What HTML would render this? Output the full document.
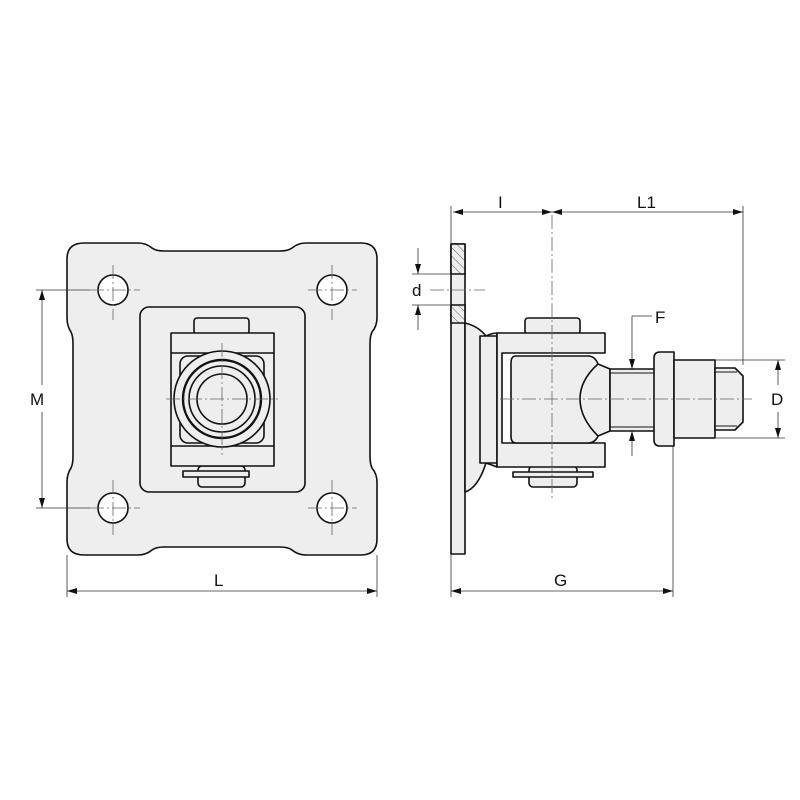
<!DOCTYPE html>
<html><head><style>body{margin:0;background:#fff}svg{display:block}text{font-family:"Liberation Sans",sans-serif;font-size:17px;fill:#111}</style></head><body>
<svg width="800" height="800" viewBox="0 0 800 800" xmlns="http://www.w3.org/2000/svg">
<defs>
<marker id="a" viewBox="0 0 10 6" refX="10" refY="3" markerWidth="10" markerHeight="6" orient="auto-start-reverse" markerUnits="userSpaceOnUse"><path d="M0,0L10,3L0,6z" fill="#111"/></marker>
<pattern id="h" width="6" height="6" patternUnits="userSpaceOnUse" patternTransform="rotate(-45)"><rect width="6" height="6" fill="#eee"/><line x1="0" y1="0" x2="0" y2="6" stroke="#444" stroke-width="0.8"/></pattern>
</defs>
<g stroke="#111" stroke-width="1.6" fill="#eee" stroke-linejoin="round">
<!-- front plate -->
<path d="M84,243 L138,243 Q146,243 152,248 Q156,251 164,251 L280,251 Q288,251 292,248 Q298,243 306,243 L361,243 Q377,243 377,259 L377,318 Q377,326 372,332 Q370,336 370,344 L370,456 Q370,464 372,468 Q377,474 377,482 L377,539 Q377,555 361,555 L306,555 Q298,555 292,550 Q288,547 280,547 L164,547 Q156,547 152,550 Q146,555 138,555 L84,555 Q67,555 67,539 L67,482 Q67,474 71,468 Q73,464 73,456 L73,344 Q73,336 71,332 Q67,326 67,318 L67,259 Q67,243 84,243Z"/>
<g fill="#fff"><circle cx="113" cy="290" r="15"/><circle cx="332" cy="290" r="15"/><circle cx="113" cy="508" r="15"/><circle cx="332" cy="508" r="15"/></g>
<rect x="140" y="307" width="165" height="185" rx="9"/>
<rect x="194" y="318" width="55" height="16" rx="3"/>
<rect x="198" y="466" width="47" height="21" rx="4"/>
<rect x="183" y="471" width="66" height="6"/>
<rect x="171" y="333" width="103" height="133"/>
<line x1="171" y1="353" x2="274" y2="353"/><line x1="171" y1="446" x2="274" y2="446"/>
<rect x="180" y="356" width="84" height="87" rx="8"/>
<circle cx="222" cy="399" r="48"/>
<circle cx="222" cy="399" r="39" stroke-width="2.4"/>
<circle cx="222" cy="399" r="33"/>
<circle cx="222" cy="399" r="25"/>
<!-- side view -->
<rect x="451" y="244" width="14" height="310"/>
<rect x="451" y="244" width="14" height="30" fill="url(#h)"/>
<rect x="451" y="305" width="14" height="18" fill="url(#h)"/>
<path d="M465,323 Q478,326 486,336 Q492,333 497,333 L497,467 Q492,465 486,463 Q478,488 465,492Z"/>
<rect x="480" y="336" width="17" height="127"/>
<rect x="525" y="318" width="55" height="16" rx="3"/>
<rect x="529" y="466" width="48" height="21" rx="4"/>
<rect x="513" y="472" width="80" height="5"/>
<path d="M497,333 L605,333 L605,353 L502,353 L502,443 L605,443 L605,467 L497,467Z"/>
<path d="M516,356 L588,356 Q595,356 598,364 L610,369 L610,431 L598,436 Q595,443 588,443 L516,443 Q511,443 511,436 L511,363 Q511,356 516,356Z"/>
<path d="M598,364 Q580,380 580,399 Q580,418 598,436" fill="none"/>
<rect x="610" y="369" width="45" height="62"/>
<line x1="610" y1="373" x2="655" y2="373" stroke-width="1"/><line x1="610" y1="427" x2="655" y2="427" stroke-width="1"/>
<path d="M660,352 L674,352 L674,446 L660,446 Q654,446 654,440 L654,358 Q654,352 660,352Z"/>
<rect x="674" y="360" width="41" height="78"/>
<path d="M715,368 L735,368 L743,376 L743,422 L735,430 L715,430Z"/>
<line x1="715" y1="372" x2="737" y2="372" stroke-width="1"/><line x1="715" y1="426" x2="737" y2="426" stroke-width="1"/>
</g>
<!-- center lines -->
<g stroke="#666" stroke-width="0.8" stroke-dasharray="14,3,2,3" fill="none">
<line x1="90" y1="290" x2="140" y2="290"/><line x1="308" y1="290" x2="357" y2="290"/>
<line x1="90" y1="508" x2="140" y2="508"/><line x1="308" y1="508" x2="357" y2="508"/>
<line x1="113" y1="265" x2="113" y2="320"/><line x1="332" y1="265" x2="332" y2="320"/>
<line x1="113" y1="480" x2="113" y2="535"/><line x1="332" y1="480" x2="332" y2="535"/>
<line x1="166" y1="399" x2="278" y2="399"/><line x1="222" y1="343" x2="222" y2="455"/>
<line x1="430" y1="290" x2="485" y2="290"/>
<line x1="500" y1="399" x2="752" y2="399"/>
<line x1="552" y1="215" x2="552" y2="500"/>
</g>
<!-- dimensions -->
<g stroke="#333" stroke-width="0.8" fill="none">
<line x1="67" y1="555" x2="67" y2="597"/><line x1="377" y1="555" x2="377" y2="597"/>
<line x1="67" y1="591" x2="377" y2="591" marker-start="url(#a)" marker-end="url(#a)"/>
<line x1="36" y1="290" x2="90" y2="290"/><line x1="36" y1="508" x2="90" y2="508"/>
<line x1="42" y1="290" x2="42" y2="385" marker-start="url(#a)"/><line x1="42" y1="412" x2="42" y2="508" marker-end="url(#a)"/>
<line x1="451" y1="206" x2="451" y2="244"/><line x1="451" y1="554" x2="451" y2="597"/>
<line x1="453" y1="212" x2="552" y2="212" marker-start="url(#a)" marker-end="url(#a)"/>
<line x1="552" y1="212" x2="743" y2="212" marker-start="url(#a)" marker-end="url(#a)"/>
<line x1="743" y1="206" x2="743" y2="365"/>
<line x1="673" y1="446" x2="673" y2="597"/>
<line x1="451" y1="591" x2="673" y2="591" marker-start="url(#a)" marker-end="url(#a)"/>
<line x1="412" y1="274" x2="451" y2="274"/><line x1="412" y1="305" x2="451" y2="305"/>
<line x1="418" y1="248" x2="418" y2="274" marker-end="url(#a)"/><line x1="418" y1="330" x2="418" y2="305" marker-end="url(#a)"/>
<line x1="715" y1="360" x2="785" y2="360"/><line x1="715" y1="438" x2="785" y2="438"/>
<line x1="778" y1="360" x2="778" y2="385" marker-start="url(#a)"/><line x1="778" y1="412" x2="778" y2="438" marker-end="url(#a)"/>
<line x1="652" y1="316" x2="632" y2="316"/>
<line x1="632" y1="316" x2="632" y2="369" marker-end="url(#a)"/>
<line x1="632" y1="456" x2="632" y2="431" marker-end="url(#a)"/>
</g>
<text x="214" y="586">L</text>
<text x="30" y="405">M</text>
<text x="498" y="208">I</text>
<text x="637" y="208">L1</text>
<text x="554" y="586">G</text>
<text x="412" y="296">d</text>
<text x="655" y="323">F</text>
<text x="771" y="405">D</text>
</svg>
</body></html>
